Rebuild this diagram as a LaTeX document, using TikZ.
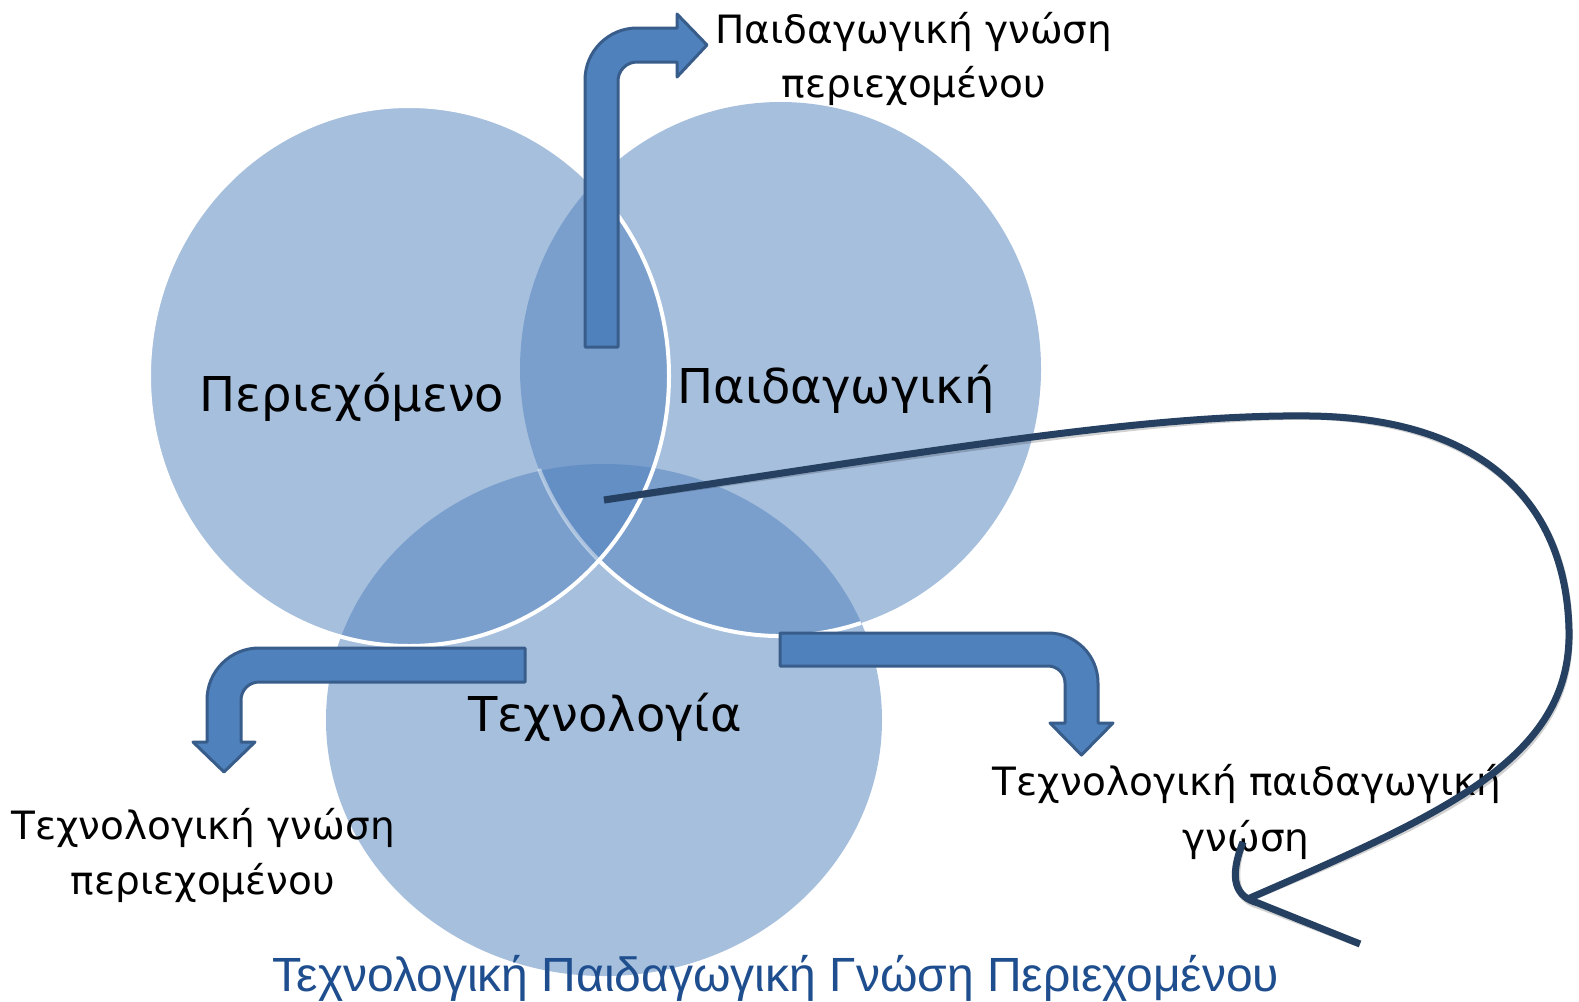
\documentclass[tikz,border=0pt]{standalone}
\usepackage{fontspec}
\setmainfont{DejaVu Sans}
\newfontfamily\titlefont{Liberation Sans}
\definecolor{vennfill}{HTML}{4F81BD}
\definecolor{arrowline}{HTML}{385D8A}
\definecolor{navy}{HTML}{254061}
\definecolor{titleblue}{HTML}{1F4E8F}
\begin{document}
\begin{tikzpicture}[x=1pt,y=-1pt,
  venn/.style={fill=vennfill, fill opacity=0.5},
  rim/.style={draw=white, line width=4pt},
  bentarrow/.style={fill=vennfill, draw=arrowline, line width=3pt, line join=round},
  biglabel/.style={anchor=base, inner sep=0pt, font=\fontsize{48}{56}\selectfont},
  smalllabel/.style={anchor=base, inner sep=0pt, font=\fontsize{39}{47}\selectfont},
  titlelabel/.style={anchor=base, inner sep=0pt, text=titleblue, font=\titlefont\fontsize{48}{56}\selectfont},
  loopline/.style={draw=navy, line width=7pt, line join=round},
  loopshadow/.style={draw=black, opacity=0.18, line width=7pt, line join=round}
]
\useasboundingbox (0,0) rectangle (1579,1001);
\fill[white] (0,0) rectangle (1579,1001);

% circles
\path[venn] (409,376) ellipse [x radius=260, y radius=270];
\path[venn] (780.5,369) ellipse [x radius=260.5, y radius=267];
\path[venn] (604,720) ellipse [x radius=278, y radius=256];

% white rims
\draw[rim] (409,376) ellipse [x radius=260, y radius=270];
\draw[rim] (599.5,561.1) arc[start angle=134, end angle=72, x radius=260.5, y radius=267];
\draw[rim, draw opacity=0.45] (539,469) arc[start angle=158, end angle=134, x radius=260.5, y radius=267];

% bent arrows
\path[bentarrow] (585,347) -- (585,80) arc[start angle=180, end angle=270, radius=52]
  -- (677,28) -- (677,14) -- (707,45) -- (677,77) -- (677,62) -- (637,62)
  arc[start angle=270, end angle=180, radius=19] -- (618,347) -- cycle;
\path[bentarrow] (525,648) -- (259,648) arc[start angle=270, end angle=180, radius=52]
  -- (207,742) -- (193,742) -- (224,772) -- (255,742) -- (241,742) -- (241,700)
  arc[start angle=180, end angle=270, radius=18] -- (525,682) -- cycle;
\path[bentarrow] (780,633) -- (1048,633) arc[start angle=270, end angle=360, radius=50]
  -- (1098,723) -- (1113,723) -- (1081.5,755) -- (1050,723) -- (1065,723) -- (1065,683)
  arc[start angle=0, end angle=-90, radius=17] -- (780,666) -- cycle;

% labels
\node[biglabel] (content) at (352,411) {Περιεχόμενο};
\node[biglabel] (pedagogy) at (836,403) {Παιδαγωγική};
\node[biglabel] (technology) at (605,731) {Τεχνολογία};
\node[smalllabel] (pck1) at (914,43) {Παιδαγωγική γνώση};
\node[smalllabel] (pck2) at (914,97) {περιεχομένου};
\node[smalllabel] (tck1) at (203,839) {Τεχνολογική γνώση};
\node[smalllabel] (tck2) at (203,894) {περιεχομένου};
\node[smalllabel] (tpk1) at (1247,795) {Τεχνολογική παιδαγωγική};
\node[smalllabel] (tpk2) at (1246,851) {γνώση};
\node[titlelabel] (tpack) at (776,991) {Τεχνολογική Παιδαγωγική Γνώση Περιεχομένου};

% freehand loop
\coordinate (loopstart) at (604,500);
\coordinate (looptop) at (1310,416);
\coordinate (loopright) at (1569,630);
\coordinate (loopcorner) at (1250,898);
\coordinate (hooktop) at (1243,842);
\coordinate (hookend) at (1360,944);
\begin{scope}[shift={(2,3)}]
\draw[loopshadow] (loopstart) .. controls (950,448) and (1150,414) .. (looptop)
  .. controls (1480,418) and (1566,500) .. (loopright)
  .. controls (1572,760) and (1440,815) .. (loopcorner);
\draw[loopshadow] (hooktop) .. controls (1228,880) and (1236,897) .. (1258,903) -- (hookend);
\end{scope}
\draw[loopline] (loopstart) .. controls (950,448) and (1150,414) .. (looptop)
  .. controls (1480,418) and (1566,500) .. (loopright)
  .. controls (1572,760) and (1440,815) .. (loopcorner);
\draw[loopline] (hooktop) .. controls (1228,880) and (1236,897) .. (1258,903) -- (hookend);
\end{tikzpicture}
\end{document}
